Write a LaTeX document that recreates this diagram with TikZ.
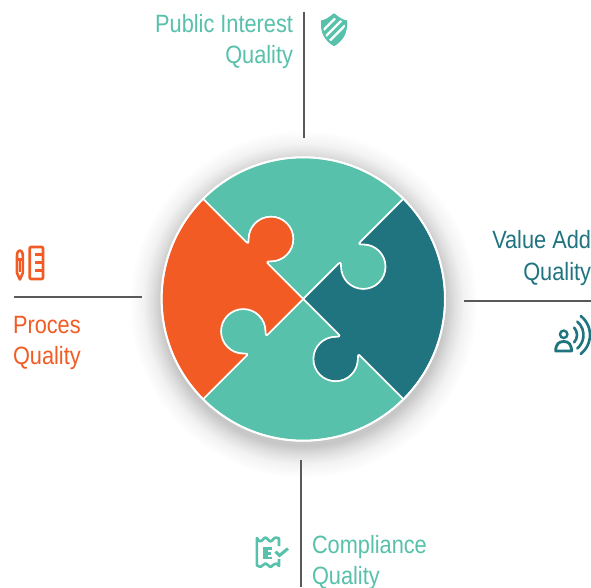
\documentclass[tikz,border=0pt]{standalone}
\usepackage{fontspec}
\setmainfont[FakeStretch=0.87]{Liberation Sans}
\definecolor{lteal}{HTML}{57C1AB}
\definecolor{dteal}{HTML}{20747F}
\definecolor{orng}{HTML}{F35B24}
\definecolor{rulegray}{HTML}{58595B}
\pgfdeclareradialshading{softshadow}{\pgfpoint{0pt}{0pt}}{
  color(0bp)=(black!22);
  color(20.4bp)=(black!22);
  color(21.6bp)=(black!13);
  color(23bp)=(black!5);
  color(25bp)=(white);
  color(50bp)=(white)}
\tikzset{
  x=1pt,y=1pt,
  lbl/.style={font=\fontsize{25}{31}\selectfont,inner sep=0pt,outer sep=0pt},
  rulel/.style={draw=rulegray,line width=1.3pt},
  piece/.style={line width=1.6pt,draw=white,line join=round},
  px/.style={shift={(0,587)},y=-1pt},
  iconline/.style={line width=2.6pt,line join=round},
}
\newcommand{\puzzlepiece}[2]{%
  \begin{scope}[shift={(303.3,288)},rotate=#1]
    \filldraw[piece,fill=#2]
      (-100.2,100.2) arc[start angle=135,end angle=45,radius=141.7]
      -- (57.5,57.5) .. controls (55,55) and (55.5,54.6) .. (60,54.6)
      arc[start angle=90,end angle=-180,radius=22.3]
      .. controls (37.7,36.5) and (37,37) .. (35,35)
      -- (0,0) -- (-35,35)
      .. controls (-37,37) and (-36.5,37.7) .. (-32.3,37.7)
      arc[start angle=-90,end angle=180,radius=22.3]
      .. controls (-54.6,55.5) and (-55,55) .. (-57.5,57.5)
      -- cycle;
  \end{scope}}
\begin{document}
\begin{tikzpicture}
\useasboundingbox (0,0) rectangle (591,587);
\fill[white] (0,0) rectangle (591,587);
% soft shadow
\shade[shading=softshadow] (303.3,283) circle[radius=174];
% puzzle
\puzzlepiece{0}{lteal}
\puzzlepiece{-90}{dteal}
\puzzlepiece{180}{lteal}
\puzzlepiece{90}{orng}
\draw[white,line width=2pt] (303.3,288) circle[radius=141.7];
% rules
\coordinate (t1) at (304,575); \coordinate (t2) at (304,449);
\coordinate (l1) at (14,290);  \coordinate (l2) at (142,290);
\coordinate (r1) at (464,286); \coordinate (r2) at (591,286);
\coordinate (b1) at (301,127); \coordinate (b2) at (301,0);
\draw[rulel] (t1)--(t2);
\draw[rulel] (l1)--(l2);
\draw[rulel] (r1)--(r2);
\draw[rulel] (b1)--(b2);
% labels
\node[lbl,text=lteal,anchor=base east] (pub1) at (293,554) {Public Interest};
\node[lbl,text=lteal,anchor=base east] (pub2) at (293,523) {Quality};
\node[lbl,text=dteal,anchor=base east] (val1) at (591,338) {Value Add};
\node[lbl,text=dteal,anchor=base east] (val2) at (591,306) {Quality};
\node[lbl,text=orng,anchor=base west] (pro1) at (13,254) {Proces};
\node[lbl,text=orng,anchor=base west] (pro2) at (13,223) {Quality};
\node[lbl,text=lteal,anchor=base west] (com1) at (312,34) {Compliance};
\node[lbl,text=lteal,anchor=base west] (com2) at (312,3) {Quality};
\begin{scope}[px]
  % shield icon
  \begin{scope}
    \clip (334,13.5) .. controls (338,17) and (342,20) .. (347,20.5)
      .. controls (347.5,32) and (344,40) .. (334,46)
      .. controls (324,40) and (320.5,32) .. (321,20.5)
      .. controls (326,20) and (330,17) .. (334,13.5) -- cycle;
    \fill[lteal] (318,10) rectangle (350,50);
    \draw[white,line width=2.4pt] (323.5,30) -- (335,18.5);
    \draw[white,line width=2.4pt] (324.5,37.5) -- (343,19);
    \draw[white,line width=2.4pt] (329.5,41) -- (345,25.5);
  \end{scope}
  \draw[lteal,line width=2pt,line join=round]
    (334,14.5) .. controls (338,18) and (342,20.5) .. (346,21.5)
    .. controls (346.5,32) and (343,39.5) .. (334,45)
    .. controls (325,39.5) and (321.5,32) .. (322,21.5)
    .. controls (326,20.5) and (330,18) .. (334,14.5) -- cycle;
  % pencil + ruler
  \draw[orng,iconline]
    (17,256) .. controls (17,248.5) and (22.8,248.5) .. (22.8,256)
    -- (22.8,273) -- (19.9,279.5) -- (17,273) -- cycle;
  \fill[orng] (16,258.5) rectangle (24,261);
  \fill[orng] (18.8,259) rectangle (21,272);
  \draw[orng,iconline,rounded corners=1pt] (29.7,247) rectangle (43,279);
  \draw[orng,line width=2.2pt] (35,254.5)--(43,254.5) (35,262.5)--(43,262.5) (35,270.5)--(43,270.5);
  % person
  \draw[dteal,line width=2.4pt] (563.7,334.3) circle[radius=3.7];
  \draw[dteal,line width=2.8pt,line join=round]
    (555.7,351) .. controls (555.7,344) and (559,341.5) .. (563.7,341.5)
    .. controls (568.5,341.5) and (571.5,344) .. (571.5,351) -- cycle;
  % receipt
  \draw[lteal,iconline]
    (279,546) -- (279,538.5)
    .. controls (277,537) and (275,537) .. (273,539.5)
    .. controls (271,542) and (270,542) .. (268,539.5)
    .. controls (266,537) and (265,537) .. (263,539.5)
    .. controls (261,542) and (259,542) .. (256.9,538)
    -- (256.9,565.5)
    .. controls (259,567) and (261,567.5) .. (263,565)
    .. controls (265,563) and (266,563) .. (268,565)
    .. controls (270,567.5) and (271,567.5) .. (273,565)
    .. controls (275,563) and (277,563) .. (279,566) -- (279,559);
  \fill[lteal] (262.7,547) rectangle (268,559);
  \fill[lteal] (268,547) rectangle (272,549.5);
  \fill[lteal] (268,552) rectangle (271,554.5);
  \fill[lteal] (268,556.5) rectangle (272,559);
  \draw[lteal,line width=3pt] (275.5,551.5) -- (279.5,555.5) -- (288,548.5);
\end{scope}
% signal arcs
\draw[dteal,line width=2.6pt,line cap=round] (566,252) ++(42:11) arc[start angle=42,end angle=-42,radius=11];
\draw[dteal,line width=2.6pt,line cap=round] (566,252) ++(50:17.5) arc[start angle=50,end angle=-50,radius=17.5];
\draw[dteal,line width=2.6pt,line cap=round] (566,252) ++(52:24) arc[start angle=52,end angle=-52,radius=24];
\end{tikzpicture}
\end{document}
